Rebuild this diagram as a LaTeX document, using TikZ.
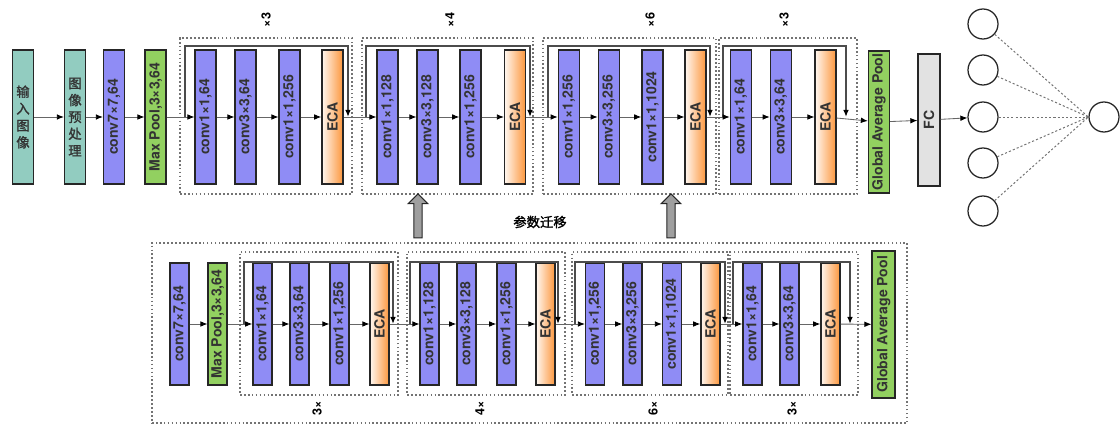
\documentclass[tikz,border=0pt]{standalone}
\usepackage{fontspec,graphicx}
\setmainfont{TeX Gyre Heros}
\newfontfamily\cjk[FakeBold=1.5]{Noto Sans CJK SC}
\definecolor{nnteal}{RGB}{146,204,192}
\definecolor{nnpurple}{RGB}{143,140,245}
\definecolor{nngreen}{RGB}{146,208,96}
\definecolor{nnorange}{RGB}{252,150,60}
\definecolor{nngray}{RGB}{226,226,226}
\usetikzlibrary{arrows.meta,positioning,shapes.arrows,fit}
\newcommand{\rotlab}[1]{\rotatebox{90}{#1}}

\begin{document}
\begin{tikzpicture}[every node/.style={font=\bfseries\fontsize{10}{12}\selectfont},
  bx/.style={draw=black!85, line width=0.9pt, minimum width=0.525cm, minimum height=3.35cm, inner sep=0pt, text=black!80},
  sbx/.style={bx, minimum width=0.475cm, minimum height=3.05cm},
  cv/.style={fill=nnpurple},
  pool/.style={fill=nngreen},
  eca/.style={left color=nnorange!8, right color=nnorange},
  zh/.style={font=\cjk\fontsize{9.5}{12}\selectfont, align=center},
  flow/.style={draw=black!60, line width=0.6pt, -{Latex[black,length=5pt,width=4pt]}},
  skip/.style={draw=gray!60!black, line width=1.1pt, -{Latex[black,length=5pt,width=4pt]}},
  grp/.style={draw=black!55, line width=0.8pt, dash pattern=on 1.2pt off 1.6pt, inner sep=0pt},
  rep/.style={font=\bfseries\fontsize{9}{10}\selectfont, rotate=90},
  neu/.style={circle, draw=black!85, line width=0.9pt, minimum size=0.75cm},
  upar/.style={single arrow, draw=black!85, line width=0.8pt, fill=gray!75, shape border rotate=90,
    minimum height=1.1cm, inner sep=0.09cm, single arrow head extend=0.14cm}]
\useasboundingbox (0,0) rectangle (28,10.65);
% Top network
\node[bx, fill=nnteal, zh] (tin) at (0.575,7.725) {输\\入\\图\\像};
\node[bx, fill=nnteal, zh] (tpre) at (1.875,7.725) {图\\像\\预\\处\\理};
\node[bx, cv] (tc7) at (2.85,7.725) {\rotlab{conv7×7,64}};
\node[bx, pool] (tmp) at (3.89,7.725) {\rotlab{Max Pool,3×3,64}};
% Top stage 1
\node[grp, fit={(4.5,5.8) (8.8,9.7)}] (tg1) {};
\node[rep] (tr1) at (6.65,10.15) {×3};
\node[bx, cv] (t11) at (5.14,7.725) {\rotlab{conv1×1,64}};
\node[bx, cv] (t12) at (6.14,7.725) {\rotlab{conv3×3,64}};
\node[bx, cv] (t13) at (7.24,7.725) {\rotlab{conv1×1,256}};
\node[bx, eca] (t14) at (8.31,7.725) {\rotlab{ECA}};
% Top stage 2
\node[grp, fit={(9.05,5.8) (13.325,9.7)}] (tg2) {};
\node[rep] (tr2) at (11.25,10.15) {×4};
\node[bx, cv] (t21) at (9.69,7.725) {\rotlab{conv1×1,128}};
\node[bx, cv] (t22) at (10.69,7.725) {\rotlab{conv3×3,128}};
\node[bx, cv] (t23) at (11.76,7.725) {\rotlab{conv1×1,256}};
\node[bx, eca] (t24) at (12.875,7.725) {\rotlab{ECA}};
% Top stage 3
\node[grp, fit={(13.575,5.8) (17.9,9.7)}] (tg3) {};
\node[rep] (tr3) at (16.25,10.15) {×6};
\node[bx, cv] (t31) at (14.22,7.725) {\rotlab{conv1×1,256}};
\node[bx, cv] (t32) at (15.22,7.725) {\rotlab{conv3×3,256}};
\node[bx, cv] (t33) at (16.31,7.725) {\rotlab{conv1×1,1024}};
\node[bx, eca] (t34) at (17.39,7.725) {\rotlab{ECA}};
% Top stage 4
\node[grp, fit={(17.975,5.8) (21.425,9.7)}] (tg4) {};
\node[rep] (tr4) at (19.6,10.15) {×3};
\node[bx, cv] (t41) at (18.52,7.725) {\rotlab{conv1×1,64}};
\node[bx, cv] (t42) at (19.52,7.725) {\rotlab{conv3×3,64}};
\node[bx, eca] (t43) at (20.64,7.725) {\rotlab{ECA}};
% Head
\node[bx, pool, minimum height=3.55cm] (tgap) at (21.975,7.6) {\rotlab{Global Average Pool}};
\node[bx, fill=nngray, minimum width=0.55cm, minimum height=3.3cm] (tfc) at (23.225,7.65) {\rotlab{FC}};
\foreach \i/\yy in {1/10.05,2/8.9,3/7.725,4/6.575,5/5.375}
  \node[neu] (n\i) at (24.575,\yy) {};
\node[neu] (nout) at (27.6,7.725) {};
\foreach \i in {1,...,5}
  \draw[black!55, line width=0.7pt, dash pattern=on 1.5pt off 1.5pt] (n\i) -- (nout.west);
% Top skips
\coordinate (ts1) at (4.625,7.725); \coordinate (tk1) at (4.625,9.5); \coordinate (te1) at (8.7,7.725);
\coordinate (ts2) at (9.15,7.725); \coordinate (tk2) at (9.15,9.5); \coordinate (te2) at (13.25,7.725);
\coordinate (ts3) at (13.7,7.725); \coordinate (tk3) at (13.7,9.5); \coordinate (te3) at (17.75,7.725);
\coordinate (ts4) at (18.075,7.725); \coordinate (tk4) at (18.075,9.5); \coordinate (te4) at (21.15,7.725);
\draw[skip] (ts1) -- (tk1) -| (te1);
\draw[skip] (ts2) -- (tk2) -| (te2);
\draw[skip] (ts3) -- (tk3) -| (te3);
\draw[skip] (ts4) -- (tk4) -| (te4);
% Top flow
\draw[flow] (tin) -- (tpre);
\draw[flow] (tpre) -- (tc7);
\draw[flow] (tc7) -- (tmp);
\draw[flow] (tmp) -- (t11);
\draw[flow] (t11) -- (t12);
\draw[flow] (t12) -- (t13);
\draw[flow] (t13) -- (t14);
\draw[flow] (t14) -- (t21);
\draw[flow] (t21) -- (t22);
\draw[flow] (t22) -- (t23);
\draw[flow] (t23) -- (t24);
\draw[flow] (t24) -- (t31);
\draw[flow] (t31) -- (t32);
\draw[flow] (t32) -- (t33);
\draw[flow] (t33) -- (t34);
\draw[flow] (t34) -- (t41);
\draw[flow] (t41) -- (t42);
\draw[flow] (t42) -- (t43);
\draw[flow] (t43) -- (tgap);
\draw[flow] (tgap) -- (tfc);
\draw[flow] (tfc) -- (n3);
% Transfer
\node[upar] (up1) at (10.45,5.2) {};
\node[upar] (up2) at (16.775,5.2) {};
\node[zh] (tl) at (13.5,5.1) {参数迁移};
% Bottom network
\node[grp, fit={(3.8,0.075) (22.675,4.575)}] (bg0) {};
\node[sbx, cv] (bc7) at (4.49,2.55) {\rotlab{conv7×7,64}};
\node[sbx, pool] (bmp) at (5.44,2.55) {\rotlab{Max Pool,3×3,64}};
% Bottom stage 1
\node[grp, fit={(6.0,0.775) (9.95,4.35)}] (bg1) {};
\node[rep] (br1) at (7.93,0.45) {3×};
\node[sbx, cv] (b11) at (6.56,2.55) {\rotlab{conv1×1,64}};
\node[sbx, cv] (b12) at (7.49,2.55) {\rotlab{conv3×3,64}};
\node[sbx, cv] (b13) at (8.49,2.55) {\rotlab{conv1×1,256}};
\node[sbx, eca] (b14) at (9.49,2.55) {\rotlab{ECA}};
% Bottom stage 2
\node[grp, fit={(10.175,0.775) (14.125,4.35)}] (bg2) {};
\node[rep] (br2) at (12.0,0.45) {4×};
\node[sbx, cv] (b21) at (10.74,2.55) {\rotlab{conv1×1,128}};
\node[sbx, cv] (b22) at (11.66,2.55) {\rotlab{conv3×3,128}};
\node[sbx, cv] (b23) at (12.66,2.55) {\rotlab{conv1×1,256}};
\node[sbx, eca] (b24) at (13.64,2.55) {\rotlab{ECA}};
% Bottom stage 3
\node[grp, fit={(14.3,0.775) (18.2,4.35)}] (bg3) {};
\node[rep] (br3) at (16.33,0.45) {6×};
\node[sbx, cv] (b31) at (14.875,2.55) {\rotlab{conv1×1,256}};
\node[sbx, cv] (b32) at (15.81,2.55) {\rotlab{conv3×3,256}};
\node[sbx, cv] (b33) at (16.8,2.55) {\rotlab{conv1×1,1024}};
\node[sbx, eca] (b34) at (17.76,2.55) {\rotlab{ECA}};
% Bottom stage 4
\node[grp, fit={(18.25,0.775) (21.45,4.35)}] (bg4) {};
\node[rep] (br4) at (19.8,0.45) {3×};
\node[sbx, cv] (b41) at (18.81,2.55) {\rotlab{conv1×1,64}};
\node[sbx, cv] (b42) at (19.74,2.55) {\rotlab{conv3×3,64}};
\node[sbx, eca] (b43) at (20.76,2.55) {\rotlab{ECA}};
\node[sbx, pool, minimum width=0.575cm, minimum height=3.675cm] (bgap) at (22.09,2.54) {\rotlab{Global Average Pool}};
% Bottom skips
\coordinate (bs1) at (6.1,2.55); \coordinate (bk1) at (6.1,4.1); \coordinate (be1) at (9.825,2.55);
\coordinate (bs2) at (10.25,2.55); \coordinate (bk2) at (10.25,4.1); \coordinate (be2) at (13.95,2.55);
\coordinate (bs3) at (14.375,2.55); \coordinate (bk3) at (14.375,4.1); \coordinate (be3) at (18.125,2.55);
\coordinate (bs4) at (18.325,2.55); \coordinate (bk4) at (18.325,4.1); \coordinate (be4) at (21.25,2.55);
\draw[skip] (bs1) -- (bk1) -| (be1);
\draw[skip] (bs2) -- (bk2) -| (be2);
\draw[skip] (bs3) -- (bk3) -| (be3);
\draw[skip] (bs4) -- (bk4) -| (be4);
% Bottom flow
\draw[flow] (bc7) -- (bmp);
\draw[flow] (bmp) -- (b11);
\draw[flow] (b11) -- (b12);
\draw[flow] (b12) -- (b13);
\draw[flow] (b13) -- (b14);
\draw[flow] (b14) -- (b21);
\draw[flow] (b21) -- (b22);
\draw[flow] (b22) -- (b23);
\draw[flow] (b23) -- (b24);
\draw[flow] (b24) -- (b31);
\draw[flow] (b31) -- (b32);
\draw[flow] (b32) -- (b33);
\draw[flow] (b33) -- (b34);
\draw[flow] (b34) -- (b41);
\draw[flow] (b41) -- (b42);
\draw[flow] (b42) -- (b43);
\draw[flow] (b43) -- (bgap);
\end{tikzpicture}
\end{document}
